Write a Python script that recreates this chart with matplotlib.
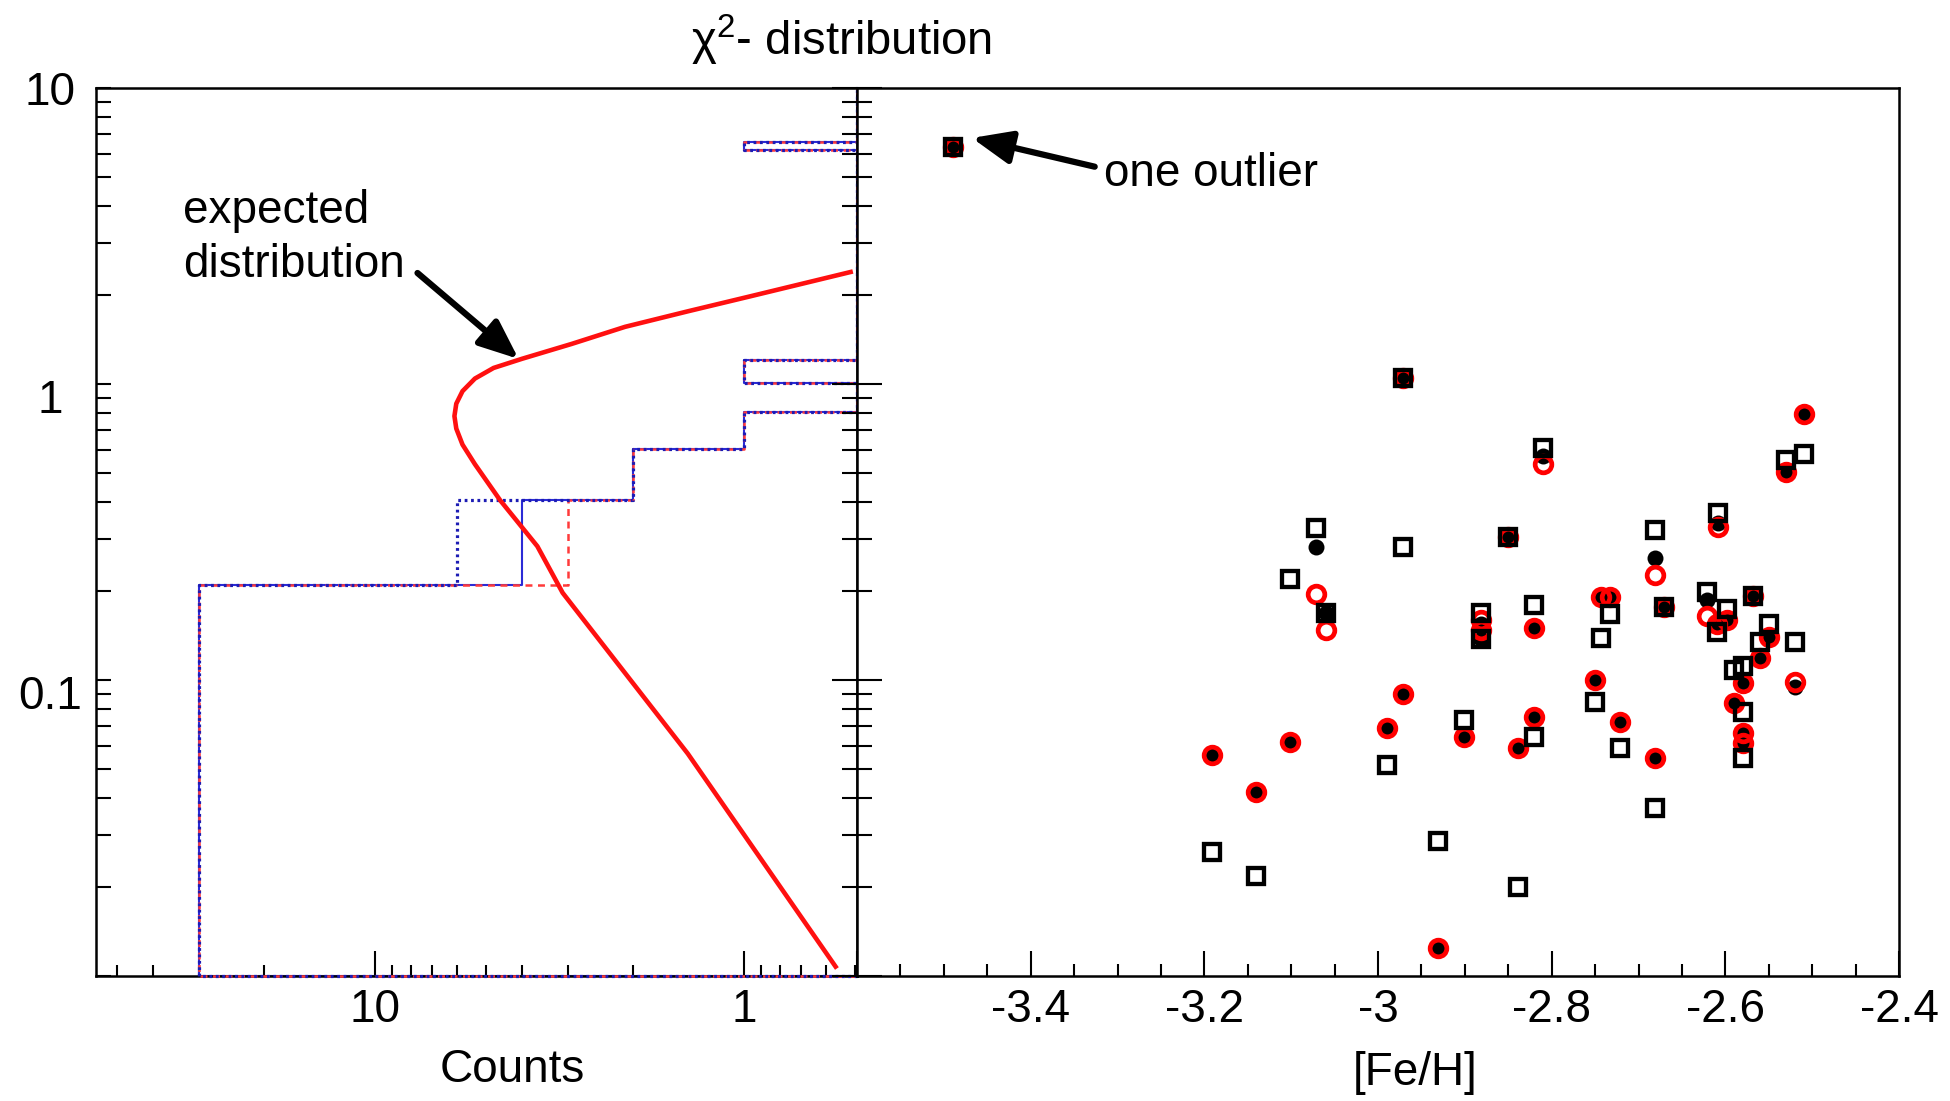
import numpy as np
import matplotlib
matplotlib.use("Agg")
import matplotlib.pyplot as plt
import matplotlib.transforms as mtransforms
from matplotlib.ticker import (LogLocator, MultipleLocator, FuncFormatter,
                               NullFormatter, FixedLocator)

plt.rcParams['font.family'] = ['Liberation Sans', 'DejaVu Sans']
plt.rcParams['axes.unicode_minus'] = False
plt.rcParams['mathtext.fontset'] = 'custom'
plt.rcParams['mathtext.rm'] = 'Liberation Sans'
plt.rcParams['mathtext.it'] = 'Liberation Sans'
plt.rcParams['lines.scale_dashes'] = False

# ---------------- data ----------------
# chi^2 histogram (horizontal): segment edges in chi^2 and counts per segment
hist_edges = [0, 0.21, 0.405, 0.605, 0.805, 1.005, 1.205, 6.15, 6.55, 10]
counts_dotted = [30, 6, 2, 1, 0, 1, 0, 1, 0]
counts_solid = [30, 4, 2, 1, 0, 1, 0, 1, 0]
counts_dashed = [30, 3, 2, 1, 0, 1, 0, 1, 0]

# expected distribution curve (chi^2 value, expected counts)
curve_chi2 = [0.0106, 0.0564, 0.197, 0.283, 0.405, 0.536, 0.624, 0.707,
              0.779, 0.858, 0.946, 1.043, 1.133, 1.216, 1.366, 1.56, 1.76,
              1.977, 2.40]
curve_counts = [0.56, 1.42, 3.1, 3.63, 4.58, 5.36, 5.79, 6.02,
                6.09, 6.02, 5.79, 5.36, 4.77, 4.0, 2.93, 2.10, 1.42,
                0.963, 0.507]

# y tick labels of the left panel
ylabel_values = [10, 1, 0.1]
ylabel_texts = ['10', '1', '0.1']

# stars: [Fe/H] and chi^2 for three methods
feh = [-3.490, -2.971, -2.509, -2.530, -2.810, -2.609, -3.071, -3.060,
       -3.101, -2.971, -2.850, -2.881, -2.881, -2.820, -2.820, -2.743,
       -2.733, -2.750, -2.681, -2.671, -2.721, -2.681, -2.621, -2.598,
       -2.610, -2.568, -2.550, -2.560, -2.520, -2.590, -2.580, -2.580,
       -2.580, -3.191, -3.140, -2.990, -2.901, -2.931, -2.839]
chi2_dot = [6.3, 1.045, 0.792, 0.506, 0.571, 0.338, 0.281, 0.168,
            0.0619, 0.090, 0.303, 0.155, 0.138, 0.1495, 0.075, 0.191,
            0.191, 0.100, 0.2575, 0.177, 0.0723, 0.0544, 0.186, 0.160,
            0.155, 0.192, 0.140, 0.1184, 0.095, 0.0835, 0.0975, 0.0662,
            0.0611, 0.0558, 0.0418, 0.0687, 0.064, 0.0124, 0.0588]
chi2_ring = [6.3, 1.045, 0.792, 0.506, 0.537, 0.330, 0.195, 0.148,
             0.0619, 0.090, 0.303, 0.160, 0.147, 0.1495, 0.075, 0.191,
             0.191, 0.100, 0.226, 0.177, 0.0723, 0.0544, 0.164, 0.160,
             0.155, 0.192, 0.140, 0.1184, 0.0987, 0.0835, 0.0975, 0.0662,
             0.0611, 0.0558, 0.0418, 0.0687, 0.064, 0.0124, 0.0588]
chi2_square = [6.3, 1.045, 0.580, 0.555, 0.607, 0.367, 0.326, 0.168,
               0.219, 0.282, 0.303, 0.168, 0.138, 0.179, 0.0644, 0.139,
               0.167, 0.0845, 0.321, 0.177, 0.0588, 0.037, 0.199, 0.1736,
               0.1456, 0.192, 0.155, 0.1347, 0.1347, 0.108, 0.1116, 0.0777,
               0.0544, 0.0263, 0.0217, 0.0517, 0.0733, 0.0285, 0.020]

W, H = 1950, 1101
fig = plt.figure(figsize=(W / 100, H / 100), dpi=100)

def fx(px):
    return px / W

def fy(py):
    return 1 - py / H

ax1 = fig.add_axes([fx(96), fy(976), fx(857) - fx(96), fy(88) - fy(976)])
ax2 = fig.add_axes([fx(857), fy(976), fx(1899) - fx(857), fy(88) - fy(976)])

FS = 33

# ---------------- left panel ----------------
ax1.set_xscale('log')
ax1.set_yscale('log')
ax1.set_xlim(57, 0.494)
ax1.set_ylim(0.01, 10)

xfloor = min(ax1.get_xlim())
yfloor = min(ax1.get_ylim())

def outline(counts):
    edges = np.maximum(np.asarray(hist_edges, dtype=float), yfloor)
    xs = [xfloor]
    ys = [edges[0]]
    for i, c in enumerate(counts):
        v = c if c > 0 else xfloor
        xs += [v, v]
        ys += [edges[i], edges[i + 1]]
    xs.append(xfloor)
    ys.append(edges[-1])
    return xs, ys

xs, ys = outline(counts_solid)
ax1.plot(xs, ys, color='#2b2bd6', lw=1.5, zorder=2, clip_on=False)
xs, ys = outline(counts_dashed)
ax1.plot(xs, ys, color='#ff3a3a', lw=1.8, dashes=(5, 4), zorder=3,
         clip_on=False)
xs, ys = outline(counts_dotted)
ax1.plot(xs, ys, color='#1c1cb4', lw=2.3, dashes=(2.0, 2.6), zorder=4,
         clip_on=False)

ax1.plot(curve_counts, curve_chi2, color='#ff1010', lw=3.3, zorder=5,
         solid_capstyle='butt', solid_joinstyle='round')

ax1.xaxis.set_major_locator(LogLocator(base=10))
ax1.xaxis.set_minor_locator(LogLocator(base=10, subs=np.arange(2, 10)))
ax1.xaxis.set_major_formatter(FuncFormatter(lambda v, p: f'{v:g}'))
ax1.xaxis.set_minor_formatter(NullFormatter())
ax1.yaxis.set_major_locator(FixedLocator([0.01, 0.1, 1, 10]))
ax1.yaxis.set_minor_locator(LogLocator(base=10, subs=np.arange(2, 10)))
ax1.yaxis.set_major_formatter(NullFormatter())
ax1.yaxis.set_minor_formatter(NullFormatter())

ax1.tick_params(axis='x', which='major', direction='in', length=18,
                width=1.5, pad=9, labelsize=FS, top=False)
ax1.tick_params(axis='x', which='minor', direction='in', length=8,
                width=1.5, top=False)
ax1.tick_params(axis='y', which='both', direction='in', length=11,
                width=1.5, right=False)
for sp in ax1.spines.values():
    sp.set_linewidth(1.8)

# y tick labels, centred left of the axis; "1" and "0.1" sit a little
# below their ticks as in the original
ytrans = ax1.get_yaxis_transform()
for v, s in zip(ylabel_values, ylabel_texts):
    tr = ytrans
    if v < 5:
        tr = ytrans + mtransforms.ScaledTranslation(0, -0.12,
                                                    fig.dpi_scale_trans)
    ax1.text(-0.0604, v, s, transform=tr, fontsize=FS, ha='center',
             va='center_baseline', clip_on=False)

# ---------------- right panel ----------------
ax2.set_yscale('log')
ax2.set_xlim(-3.6, -2.4)
ax2.set_ylim(0.01, 10)

ax2.plot(feh, chi2_dot, ls='none', marker='o', ms=11.5, mew=0,
         mfc='black', zorder=3)
ax2.plot(feh, chi2_ring, ls='none', marker='o', ms=12, mew=3.4,
         mfc='none', mec='#ff0000', zorder=4)
ax2.plot(feh, chi2_square, ls='none', marker='s', ms=11.8, mew=3.1,
         mfc='none', mec='black', zorder=5)

ax2.xaxis.set_major_locator(MultipleLocator(0.2))
ax2.xaxis.set_minor_locator(MultipleLocator(0.05))
ax2.xaxis.set_major_formatter(
    FuncFormatter(lambda v, p: '' if v < -3.55 else f'{round(v, 2):g}'))
ax2.yaxis.set_major_locator(FixedLocator([0.01, 0.1, 1, 10]))
ax2.yaxis.set_minor_locator(LogLocator(base=10, subs=np.arange(2, 10)))
ax2.yaxis.set_major_formatter(NullFormatter())
ax2.yaxis.set_minor_formatter(NullFormatter())

ax2.tick_params(axis='x', which='major', direction='in', length=18,
                width=1.5, pad=9, labelsize=FS, top=False)
ax2.tick_params(axis='x', which='minor', direction='in', length=8.5,
                width=1.5, top=False)
ax2.tick_params(axis='y', which='major', direction='inout', length=36,
                width=1.5, right=False, labelleft=False)
ax2.tick_params(axis='y', which='minor', direction='inout', length=21,
                width=1.5, right=False, labelleft=False)
for sp in ax2.spines.values():
    sp.set_linewidth(1.8)

# ---------------- texts and arrows ----------------
fig.text(fx(842), fy(55), 'χ$^{2}$- distribution', fontsize=34,
         ha='center', va='baseline')
fig.text(fx(512), fy(1082), 'Counts', fontsize=FS, ha='center',
         va='baseline')
fig.text(fx(1415), fy(1085), '[Fe/H]', fontsize=FS, ha='center',
         va='baseline')

fig.text(fx(183), fy(223), 'expected', fontsize=FS, ha='left',
         va='baseline')
fig.text(fx(183), fy(277), 'distribution', fontsize=FS, ha='left',
         va='baseline')
fig.text(fx(1104), fy(186), 'one outlier', fontsize=FS, ha='left',
         va='baseline')

arrow_style = dict(arrowstyle='-|>,head_length=1.2,head_width=0.5',
                   lw=4.5, color='black', shrinkA=0, shrinkB=0,
                   mutation_scale=20)
ax1.annotate('', xy=(4.08, 1.215), xycoords='data',
             xytext=(fx(417.5), fy(273)), textcoords='figure fraction',
             arrowprops=arrow_style, annotation_clip=False)
ax2.annotate('', xy=(-3.4676, 6.78), xycoords='data',
             xytext=(fx(1094.7), fy(166.7)), textcoords='figure fraction',
             arrowprops=arrow_style, annotation_clip=False)

fig.savefig('out.png', dpi=100)
